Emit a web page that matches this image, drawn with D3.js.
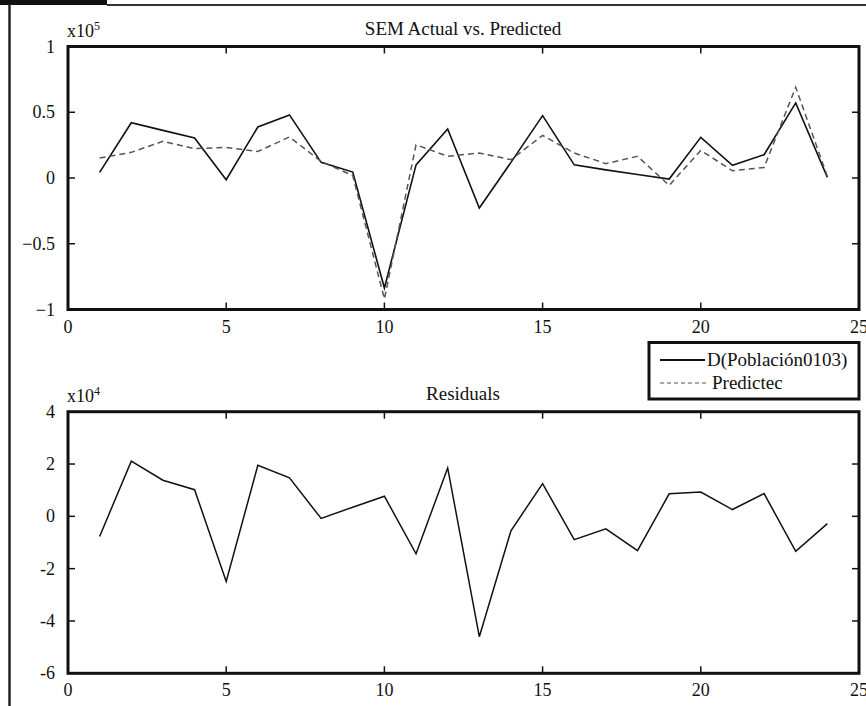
<!DOCTYPE html>
<html><head><meta charset="utf-8">
<script src="https://cdn.jsdelivr.net/npm/d3@7/dist/d3.min.js"></script>
<style>
body{margin:0;background:#fff;}
text{font-family:"Liberation Serif","Times New Roman",serif;fill:#111;}
</style></head>
<body>
<svg id="c" width="866" height="706"></svg>
<script>
const obs = d3.range(1, 25);
const actual = [0.043,0.42,0.362,0.304,-0.013,0.388,0.48,0.119,0.045,-0.837,0.10,0.373,-0.228,0.119,0.474,0.10,0.062,0.027,-0.008,0.309,0.096,0.177,0.571,0.005];
const predicted = [0.152,0.195,0.279,0.223,0.233,0.202,0.312,0.126,0.018,-0.92,0.253,0.165,0.19,0.139,0.324,0.19,0.109,0.165,-0.056,0.21,0.055,0.08,0.69,0.012];
const residuals = [-0.77,2.11,1.38,1.02,-2.49,1.95,1.47,-0.08,0.35,0.77,-1.43,1.85,-4.6,-0.55,1.25,-0.89,-0.48,-1.31,0.86,0.93,0.26,0.87,-1.34,-0.28];
const xTicks = [0,5,10,15,20,25];
const topYTicks = [-1,-0.5,0,0.5,1];
const topYLabels = ["\u22121","\u22120.5","0","0.5","1"];
const botYTicks = [-6,-4,-2,0,2,4];
const botYLabels = ["-6","-4","-2","0","2","4"];
const titleTop = "SEM Actual vs. Predicted";
const titleBot = "Residuals";
const legendLabels = ["D(Población0103)","Predictec"];

const svg = d3.select("#c");
svg.append("rect").attr("x",0).attr("y",0).attr("width",107).attr("height",5).attr("fill","#111");
svg.append("line").attr("x1",107).attr("x2",866).attr("y1",5).attr("y2",5).attr("stroke","#333").attr("stroke-width",2);
svg.append("line").attr("x1",9.5).attr("x2",9.5).attr("y1",4).attr("y2",706).attr("stroke","#222").attr("stroke-width",2.5);

const x0 = 68, x1 = 859;
const tickFont = 18, titleFont = 19;

function panel(yTop, yBot, ydom, yTicks, yLabels, title, exp) {
  const x = d3.scaleLinear().domain([0,25]).range([x0,x1]);
  const y = d3.scaleLinear().domain(ydom).range([yBot,yTop]);
  const g = svg.append("g");
  const tickLen = 7;
  const inner = xTicks.filter(t => t>0 && t<25);
  const innerY = yTicks.filter(t => t>ydom[0] && t<ydom[1]);
  g.selectAll(".tb").data(inner).join("line")
    .attr("x1",d=>x(d)).attr("x2",d=>x(d)).attr("y1",yBot).attr("y2",yBot-tickLen).attr("stroke","#111").attr("stroke-width",1.5);
  g.selectAll(".tt").data(inner).join("line")
    .attr("x1",d=>x(d)).attr("x2",d=>x(d)).attr("y1",yTop).attr("y2",yTop+tickLen).attr("stroke","#111").attr("stroke-width",1.5);
  g.selectAll(".tl").data(innerY).join("line")
    .attr("x1",x0).attr("x2",x0+tickLen).attr("y1",d=>y(d)).attr("y2",d=>y(d)).attr("stroke","#111").attr("stroke-width",1.5);
  g.selectAll(".tr").data(innerY).join("line")
    .attr("x1",x1).attr("x2",x1-tickLen).attr("y1",d=>y(d)).attr("y2",d=>y(d)).attr("stroke","#111").attr("stroke-width",1.5);
  g.append("rect").attr("x",x0).attr("y",yTop).attr("width",x1-x0).attr("height",yBot-yTop)
    .attr("fill","none").attr("stroke","#111").attr("stroke-width",3);
  g.selectAll(".xl").data(xTicks).join("text")
    .attr("x",d=>x(d)).attr("y",yBot+23).attr("text-anchor","middle").attr("font-size",tickFont).text(d=>d);
  g.selectAll(".yl").data(yTicks).join("text")
    .attr("x",55).attr("y",(d)=>y(d)+6).attr("text-anchor","end").attr("font-size",tickFont).text((d,i)=>yLabels[i]);
  g.append("text").attr("x",463).attr("y",yTop-12).attr("text-anchor","middle").attr("font-size",titleFont).text(title);
  const ex = g.append("text").attr("x",67).attr("y",yTop-10).attr("font-size",tickFont);
  ex.append("tspan").text("x10");
  ex.append("tspan").attr("dy",-7).attr("font-size",12).text(exp);
  return {x,y,g};
}

const pTop = panel(46.5, 309.5, [-1,1], topYTicks, topYLabels, titleTop, "5");
const line1 = d3.line().x((d,i)=>pTop.x(obs[i])).y(d=>pTop.y(d));
pTop.g.append("path").attr("d",line1(actual)).attr("fill","none").attr("stroke","#111").attr("stroke-width",1.6);
pTop.g.append("path").attr("d",line1(predicted)).attr("fill","none").attr("stroke","#555").attr("stroke-width",1.5).attr("stroke-dasharray","6,4");

const pBot = panel(411.7, 673.3, [-6,4], botYTicks, botYLabels, titleBot, "4");
const line2 = d3.line().x((d,i)=>pBot.x(obs[i])).y(d=>pBot.y(d));
pBot.g.append("path").attr("d",line2(residuals)).attr("fill","none").attr("stroke","#111").attr("stroke-width",1.5);

const lg = svg.append("g");
lg.append("rect").attr("x",649).attr("y",342.5).attr("width",210).attr("height",56.5).attr("fill","#fff").attr("stroke","#111").attr("stroke-width",3);
lg.append("line").attr("x1",660).attr("x2",705).attr("y1",360).attr("y2",360).attr("stroke","#111").attr("stroke-width",2);
lg.append("line").attr("x1",660).attr("x2",706).attr("y1",383).attr("y2",383).attr("stroke","#555").attr("stroke-width",1.2).attr("stroke-dasharray","4,3");
lg.append("text").attr("x",707).attr("y",366).attr("font-size",titleFont).text(legendLabels[0]);
lg.append("text").attr("x",712).attr("y",389).attr("font-size",titleFont).text(legendLabels[1]);
</script>
</body></html>
